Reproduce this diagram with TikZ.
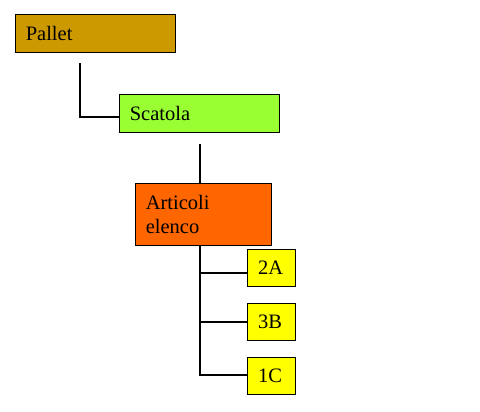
\documentclass[tikz,border=0pt]{standalone}
\usepackage{fontspec}
\setmainfont{Liberation Serif}
\usetikzlibrary{calc}
\definecolor{palletcol}{RGB}{204,153,0}
\definecolor{scatolacol}{RGB}{153,255,51}
\definecolor{articolicol}{RGB}{255,102,0}
\definecolor{codecol}{RGB}{255,255,0}
\begin{document}
\begin{tikzpicture}[x=1pt, y=-1pt,
  box/.style={draw=black, line width=1pt, anchor=north west, outer sep=0pt,
    inner xsep=10.5pt, inner ysep=0pt, align=left,
    font=\fontsize{20.5}{24.5}\selectfont},
  link/.style={line width=2pt}]
\useasboundingbox (0,0) rectangle (480,412);
% levels
\node[box, fill=palletcol, text width=139.4pt, minimum height=37.3pt] (pallet) at (15.3,15) {Pallet};
\node[box, fill=scatolacol, text width=139pt, minimum height=37.3pt] (scatola) at (119.3,95) {Scatola};
\node[box, fill=articolicol, text width=115.4pt, minimum height=62pt] (articoli) at (135.3,183.3) {Articoli\\elenco};
\node[box, fill=codecol, text width=26.6pt, minimum height=36.7pt] (a2) at (247.7,249.3) {2A};
\node[box, fill=codecol, text width=26.6pt, minimum height=36.7pt] (b3) at (247.7,303.3) {3B};
\node[box, fill=codecol, text width=26.6pt, minimum height=36.7pt] (c1) at (247.7,357.3) {1C};
% connectors
\coordinate (pdrop) at ($(pallet.south west)+(64.7,11)$);
\draw[link] (pdrop) |- ($(scatola.west)+(0,3.6)$);
\coordinate (sdrop) at ($(scatola.south west)+(80.7,11.7)$);
\draw[link] (sdrop) -- (sdrop |- articoli.north);
\coordinate (trunk) at (sdrop |- articoli.south);
\draw[link] (trunk) |- ($(a2.west)+(0,5)$);
\draw[link] (trunk) |- (b3.west);
\draw[link] (trunk) |- ($(c1.west)+(0,-1)$);
\end{tikzpicture}
\end{document}
